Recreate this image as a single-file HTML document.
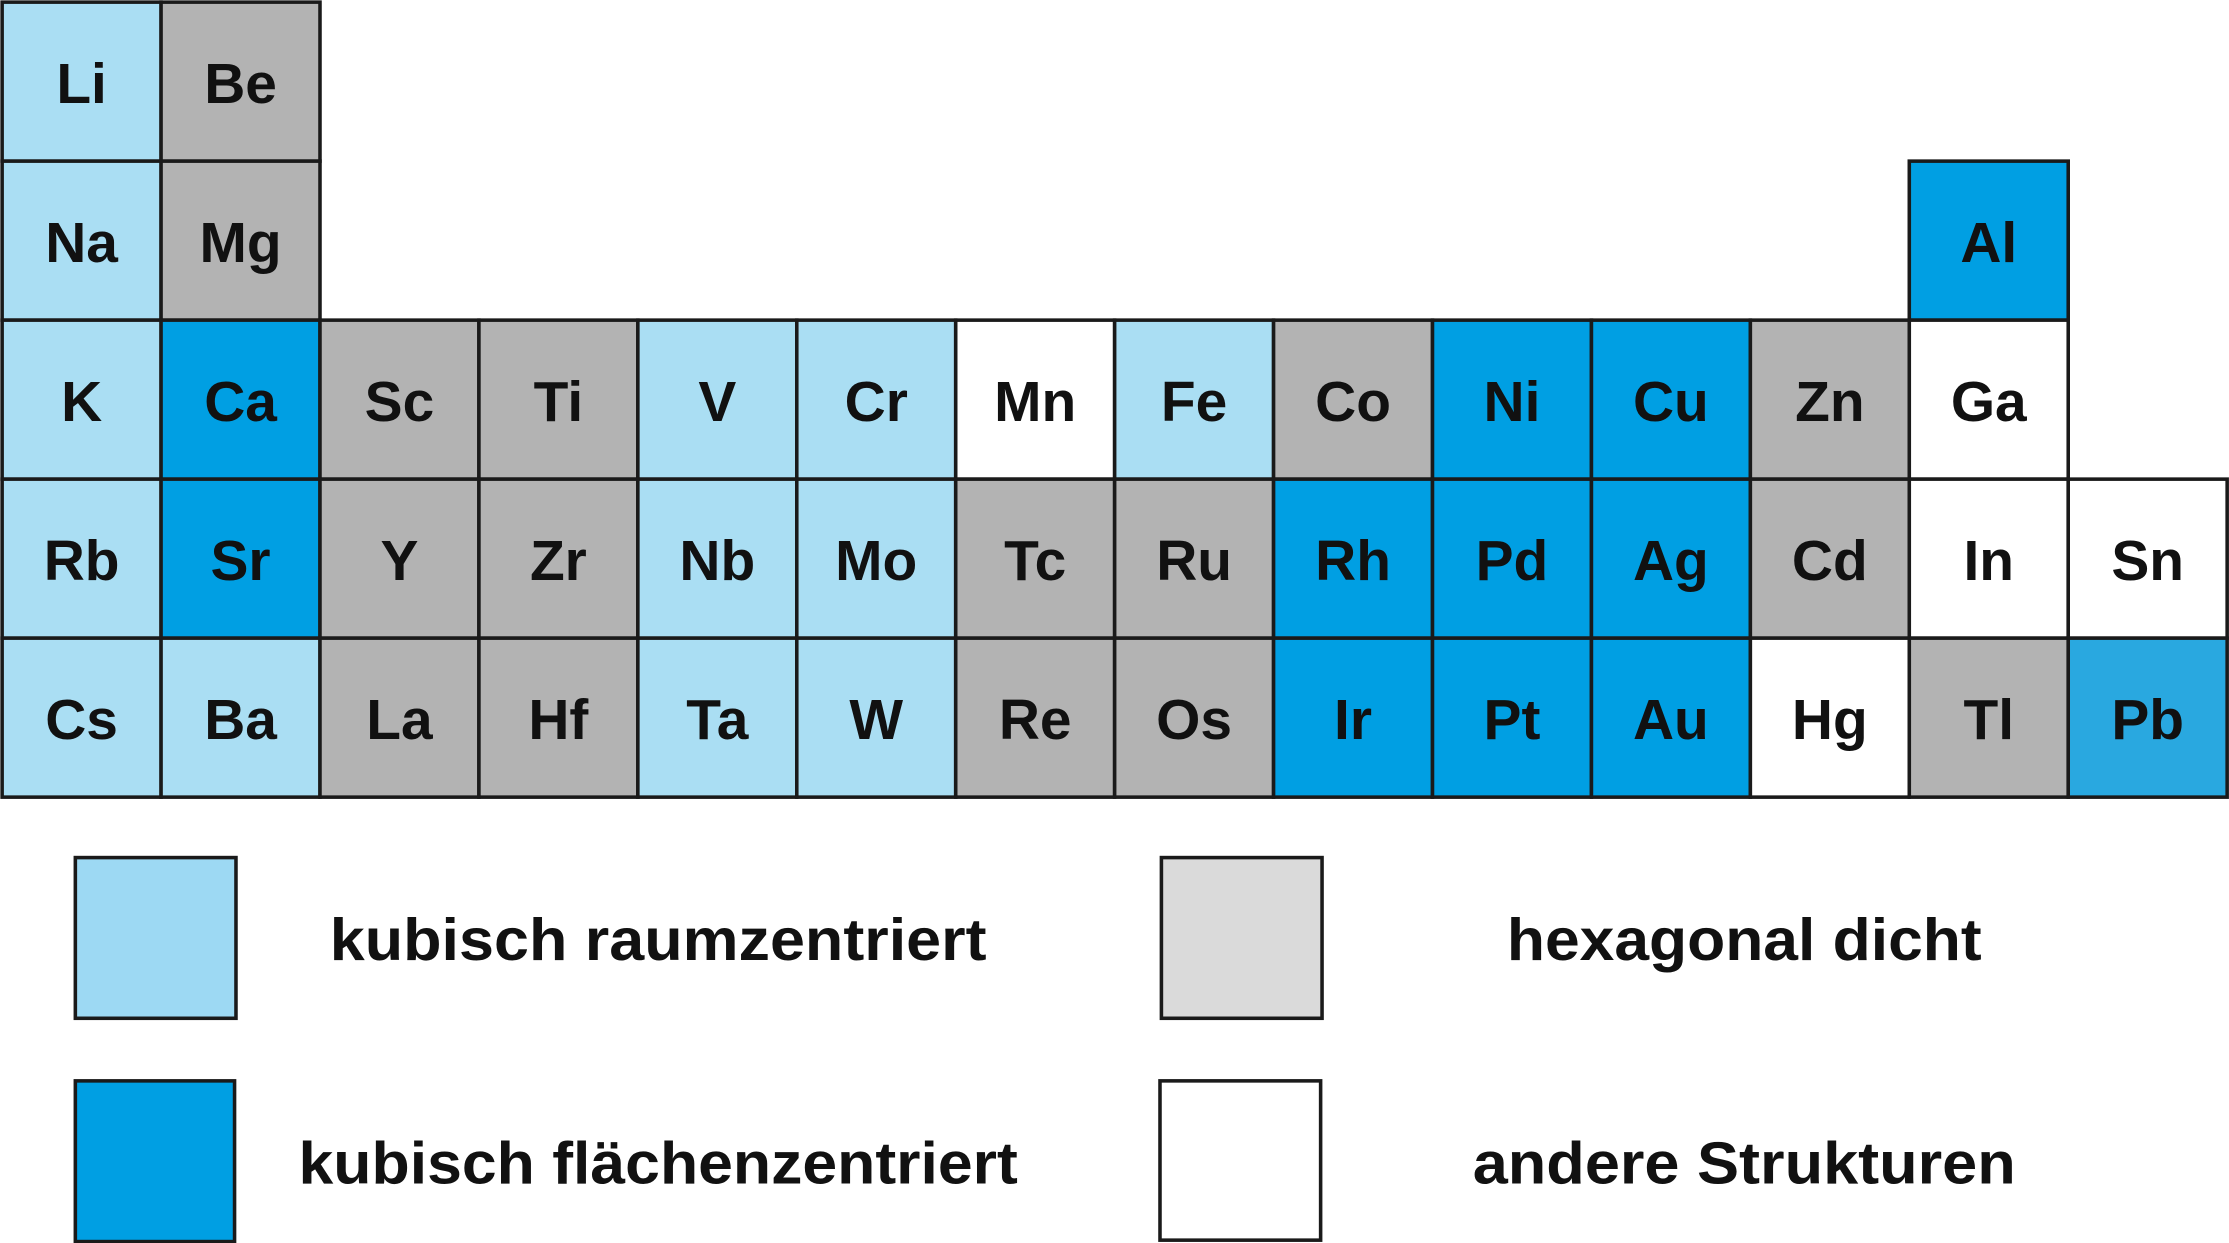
<!DOCTYPE html>
<html><head><meta charset="utf-8"><style>
html,body{margin:0;padding:0;background:#fff;}
svg{display:block;}
text{font-family:"Liberation Sans",sans-serif;font-weight:bold;fill:#111;}
</style></head><body>
<svg width="2229" height="1243" viewBox="0 0 1568 874" preserveAspectRatio="none" xmlns="http://www.w3.org/2000/svg">
<g id="cells" stroke="#1a1a1a" stroke-width="2.5"></g>
<g id="labels" font-size="40" text-anchor="middle"></g>
<rect x="53" y="603" width="113" height="113" fill="#9dd9f3" stroke="#1a1a1a" stroke-width="2.5"/>
<rect x="53" y="760" width="112" height="113" fill="#009fe3" stroke="#1a1a1a" stroke-width="2.5"/>
<rect x="817" y="603" width="113" height="113" fill="#dadada" stroke="#1a1a1a" stroke-width="2.5"/>
<rect x="816" y="760" width="113" height="112" fill="#ffffff" stroke="#1a1a1a" stroke-width="2.5"/>
<text x="232" y="675" font-size="42" textLength="462" lengthAdjust="spacingAndGlyphs">kubisch raumzentriert</text>
<text x="210" y="832" font-size="42" textLength="506" lengthAdjust="spacingAndGlyphs">kubisch flächenzentriert</text>
<text x="1060" y="675" font-size="42" textLength="334" lengthAdjust="spacingAndGlyphs">hexagonal dicht</text>
<text x="1036" y="832" font-size="42" textLength="382" lengthAdjust="spacingAndGlyphs">andere Strukturen</text>
</svg>
<script>
var C={L:"#aadef3",G:"#b3b3b3",B:"#009fe3",W:"#ffffff",P:"#29a8e0"};
var rows=[
[[0,"Li","L"],[1,"Be","G"]],
[[0,"Na","L"],[1,"Mg","G"],[12,"Al","B"]],
[[0,"K","L"],[1,"Ca","B"],[2,"Sc","G"],[3,"Ti","G"],[4,"V","L"],[5,"Cr","L"],[6,"Mn","W"],[7,"Fe","L"],[8,"Co","G"],[9,"Ni","B"],[10,"Cu","B"],[11,"Zn","G"],[12,"Ga","W"]],
[[0,"Rb","L"],[1,"Sr","B"],[2,"Y","G"],[3,"Zr","G"],[4,"Nb","L"],[5,"Mo","L"],[6,"Tc","G"],[7,"Ru","G"],[8,"Rh","B"],[9,"Pd","B"],[10,"Ag","B"],[11,"Cd","G"],[12,"In","W"],[13,"Sn","W"]],
[[0,"Cs","L"],[1,"Ba","L"],[2,"La","G"],[3,"Hf","G"],[4,"Ta","L"],[5,"W","L"],[6,"Re","G"],[7,"Os","G"],[8,"Ir","B"],[9,"Pt","B"],[10,"Au","B"],[11,"Hg","W"],[12,"Tl","G"],[13,"Pb","P"]]
];
var ns="http://www.w3.org/2000/svg",g=document.getElementById("cells"),t=document.getElementById("labels");
var w=111.8;
rows.forEach(function(r,ri){r.forEach(function(c){
 var x=1.5+c[0]*w,y=1.5+ri*w;
 var rc=document.createElementNS(ns,"rect");
 rc.setAttribute("x",x);rc.setAttribute("y",y);rc.setAttribute("width",w);rc.setAttribute("height",w);
 rc.setAttribute("fill",C[c[2]]);g.appendChild(rc);
 var tx=document.createElementNS(ns,"text");
 tx.setAttribute("x",x+w/2);tx.setAttribute("y",y+w/2+15);tx.textContent=c[1];
 if(c[2]=="W")tx.setAttribute("style","fill:#111");
 t.appendChild(tx);
});});
</script>
</body></html>
